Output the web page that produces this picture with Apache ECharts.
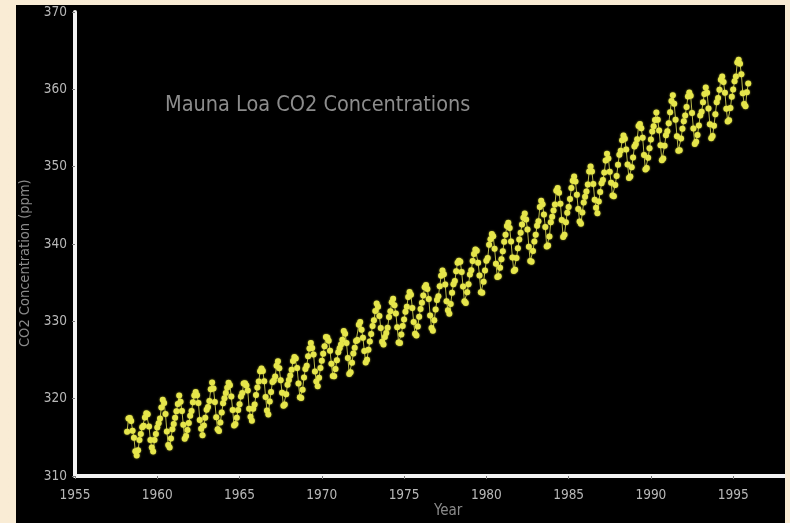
<!DOCTYPE html>
<html>
<head>
<meta charset="utf-8">
<script src="https://cdn.jsdelivr.net/npm/echarts@6/dist/echarts.min.js"></script>
<style>
  html, body { margin: 0; padding: 0; width: 790px; height: 523px; overflow: hidden;
    background: linear-gradient(90deg, #f9ecd5 0%, #f8ead2 100%); }
  #chart { position: absolute; left: 16px; top: 5px; width: 769px; height: 518px; background: #000; }
</style>
</head>
<body>
<div id="chart"></div>
<script>
// Monthly Mauna Loa CO2 (ppm). 1958 starts in March.
const firstYear = 1958;
const firstMonth = 2; // March (0-based)
const co2_1958 = [315.71, 317.45, 317.50, 317.10, 315.86, 314.93, 313.20, 312.66, 313.33, 314.67];
const co2_1959_1967 = [
  [315.42, 316.31, 316.50, 317.56, 318.13, 318.00, 316.39, 314.65, 313.68, 313.18, 314.66, 315.43],
  [316.27, 316.81, 317.42, 318.87, 319.87, 319.43, 318.01, 315.74, 314.00, 313.68, 314.84, 316.03],
  [316.73, 317.54, 318.38, 319.31, 320.42, 319.61, 318.42, 316.63, 314.83, 315.16, 315.94, 316.85],
  [317.78, 318.40, 319.53, 320.42, 320.85, 320.45, 319.45, 317.25, 316.11, 315.27, 316.53, 317.53],
  [318.58, 318.92, 319.70, 321.22, 322.08, 321.31, 319.58, 317.61, 316.05, 315.83, 316.91, 318.20],
  [319.41, 320.07, 320.74, 321.40, 322.06, 321.73, 320.27, 318.54, 316.54, 316.71, 317.53, 318.55],
  [319.27, 320.28, 320.73, 321.97, 322.00, 321.71, 321.05, 318.71, 317.66, 317.14, 318.70, 319.25],
  [320.46, 321.43, 322.23, 323.54, 323.91, 323.59, 322.24, 320.20, 318.48, 317.94, 319.63, 320.87],
  [322.17, 322.34, 322.88, 324.25, 324.83, 323.93, 322.38, 320.76, 319.10, 319.24, 320.56, 321.80]
];
const co2_1968_1977 = [
  [322.40, 322.99, 323.73, 324.86, 325.40, 325.20, 323.98, 321.95, 320.18, 320.09, 321.16, 322.74],
  [323.83, 324.26, 325.47, 326.50, 327.21, 326.54, 325.72, 323.50, 322.22, 321.62, 322.69, 323.95],
  [324.89, 325.82, 326.77, 327.97, 327.91, 327.50, 326.18, 324.53, 322.93, 322.90, 323.85, 324.96],
  [326.01, 326.51, 327.01, 327.62, 328.76, 328.40, 327.20, 325.27, 323.20, 323.40, 324.63, 325.85],
  [326.60, 327.47, 327.58, 329.56, 329.90, 328.92, 327.88, 326.16, 324.68, 325.04, 326.34, 327.39],
  [328.37, 329.40, 330.14, 331.33, 332.31, 331.90, 330.70, 329.15, 327.35, 327.02, 327.99, 328.48],
  [329.18, 330.55, 331.32, 332.48, 332.92, 332.08, 331.01, 329.23, 327.27, 327.21, 328.29, 329.41],
  [330.23, 331.25, 331.87, 333.14, 333.80, 333.43, 331.73, 329.90, 328.40, 328.17, 329.32, 330.59],
  [331.58, 332.39, 333.33, 334.41, 334.71, 334.17, 332.89, 330.77, 329.14, 328.78, 330.14, 331.52],
  [332.75, 333.24, 334.53, 335.90, 336.57, 336.10, 334.76, 332.59, 331.42, 330.98, 332.24, 333.68]
];
const co2_1978_1986 = [
  [334.80, 335.22, 336.47, 337.59, 337.84, 337.72, 336.37, 334.51, 332.60, 332.38, 333.75, 334.78],
  [336.05, 336.59, 337.79, 338.71, 339.30, 339.12, 337.56, 335.92, 333.75, 333.70, 335.12, 336.56],
  [337.84, 338.19, 339.91, 340.60, 341.29, 341.00, 339.39, 337.43, 335.72, 335.84, 336.93, 338.04],
  [339.06, 340.30, 341.21, 342.33, 342.74, 342.08, 340.32, 338.26, 336.52, 336.68, 338.19, 339.44],
  [340.57, 341.44, 342.53, 343.39, 343.96, 343.18, 341.88, 339.65, 337.81, 337.69, 339.09, 340.32],
  [341.20, 342.35, 342.93, 344.77, 345.58, 345.14, 343.81, 342.21, 339.69, 339.82, 340.98, 342.82],
  [343.52, 344.33, 345.11, 346.88, 347.25, 346.62, 345.22, 343.11, 340.90, 341.18, 342.80, 344.04],
  [344.79, 345.82, 347.25, 348.17, 348.74, 348.07, 346.38, 344.51, 342.92, 342.62, 344.06, 345.38],
  [346.11, 346.78, 347.68, 349.37, 350.03, 349.37, 347.76, 345.73, 344.68, 343.99, 345.48, 346.72]
];
const co2_1987_1995 = [
  [347.84, 348.29, 349.23, 350.80, 351.66, 351.07, 349.33, 347.92, 346.27, 346.18, 347.64, 348.78],
  [350.25, 351.54, 352.05, 353.41, 354.04, 353.62, 352.22, 350.27, 348.55, 348.72, 349.91, 351.18],
  [352.60, 352.92, 353.53, 355.26, 355.52, 354.97, 353.75, 351.52, 349.64, 349.83, 351.14, 352.37],
  [353.50, 354.55, 355.23, 356.04, 357.00, 356.07, 354.67, 352.76, 350.82, 351.04, 352.69, 354.07],
  [354.59, 355.63, 357.03, 358.48, 359.22, 358.12, 356.06, 353.92, 352.05, 352.11, 353.64, 354.89],
  [355.88, 356.63, 357.72, 359.07, 359.58, 359.17, 356.94, 354.92, 352.94, 353.23, 354.09, 355.33],
  [356.63, 357.10, 358.32, 359.41, 360.23, 359.55, 357.53, 355.48, 353.67, 353.95, 355.30, 356.78],
  [358.34, 358.89, 359.95, 361.25, 361.67, 360.94, 359.55, 357.49, 355.84, 356.00, 357.59, 359.05],
  [359.98, 361.03, 361.66, 363.48, 363.82, 363.30, 361.94, 359.50, 358.11, 357.80, 359.61, 360.74]
];
const xTicks = [1955, 1960, 1965, 1970, 1975, 1980, 1985, 1990, 1995];
const yTicks = [310, 320, 330, 340, 350, 360, 370];

const points = [];
co2_1958.forEach((v, i) => points.push([firstYear + (firstMonth + i) / 12, v]));
const blocks = [co2_1959_1967, co2_1968_1977, co2_1978_1986, co2_1987_1995];
let yr = 1959;
blocks.forEach(block => block.forEach(row => {
  row.forEach((v, m) => points.push([yr + m / 12, v]));
  yr++;
}));

const narrow = "'Liberation Sans Narrow', 'DejaVu Sans Condensed', 'Noto Sans', sans-serif";
const chart = echarts.init(document.getElementById('chart'), null, { renderer: 'canvas' });
chart.setOption({
  backgroundColor: '#000',
  animation: false,
  title: {
    text: 'Mauna Loa CO2 Concentrations',
    left: 144, top: 84,
    textStyle: { color: '#8c8c8c', fontFamily: narrow, fontSize: 21.5, fontWeight: 'normal' }
  },
  grid: { left: 59, right: 0, top: 7, bottom: 47, containLabel: false, outerBoundsMode: 'none' },
  xAxis: {
    type: 'value', min: xTicks[0], max: 1998.15, interval: 5,
    axisLine: { lineStyle: { color: '#f2f2f2', width: 4 } },
    axisTick: { show: true, length: 3, lineStyle: { color: '#777', width: 1 } },
    axisLabel: { color: '#b8b8b8', fontFamily: narrow, fontSize: 13.5, margin: 12, showMaxLabel: false,
      formatter: v => xTicks.includes(v) ? String(v) : '' },
    splitLine: { show: false }
  },
  yAxis: {
    type: 'value', min: yTicks[0], max: yTicks[yTicks.length - 1], interval: 10,
    axisLine: { lineStyle: { color: '#f2f2f2', width: 4 } },
    axisTick: { show: true, length: 3, lineStyle: { color: '#777', width: 1 } },
    axisLabel: { color: '#b8b8b8', fontFamily: narrow, fontSize: 13.5, margin: 8 },
    splitLine: { show: false }
  },
  graphic: [{
    type: 'text', left: 418, top: 499,
    style: { text: 'Year', fill: '#8a8a8a', font: "15px " + narrow }
  }, {
    type: 'text', x: 2, y: 342, rotation: Math.PI / 2,
    style: { text: 'CO2 Concentration (ppm)', fill: '#8a8a8a', font: "14.5px " + narrow }
  }],
  series: [{
    type: 'line',
    data: points,
    symbol: 'circle',
    symbolSize: 6,
    showSymbol: true,
    lineStyle: { color: '#b8b84a', width: 1 },
    itemStyle: { color: '#e6e64c', borderWidth: 0, shadowBlur: 2, shadowColor: 'rgba(230,230,70,0.7)' },
    z: 3
  }]
});
</script>
</body>
</html>
